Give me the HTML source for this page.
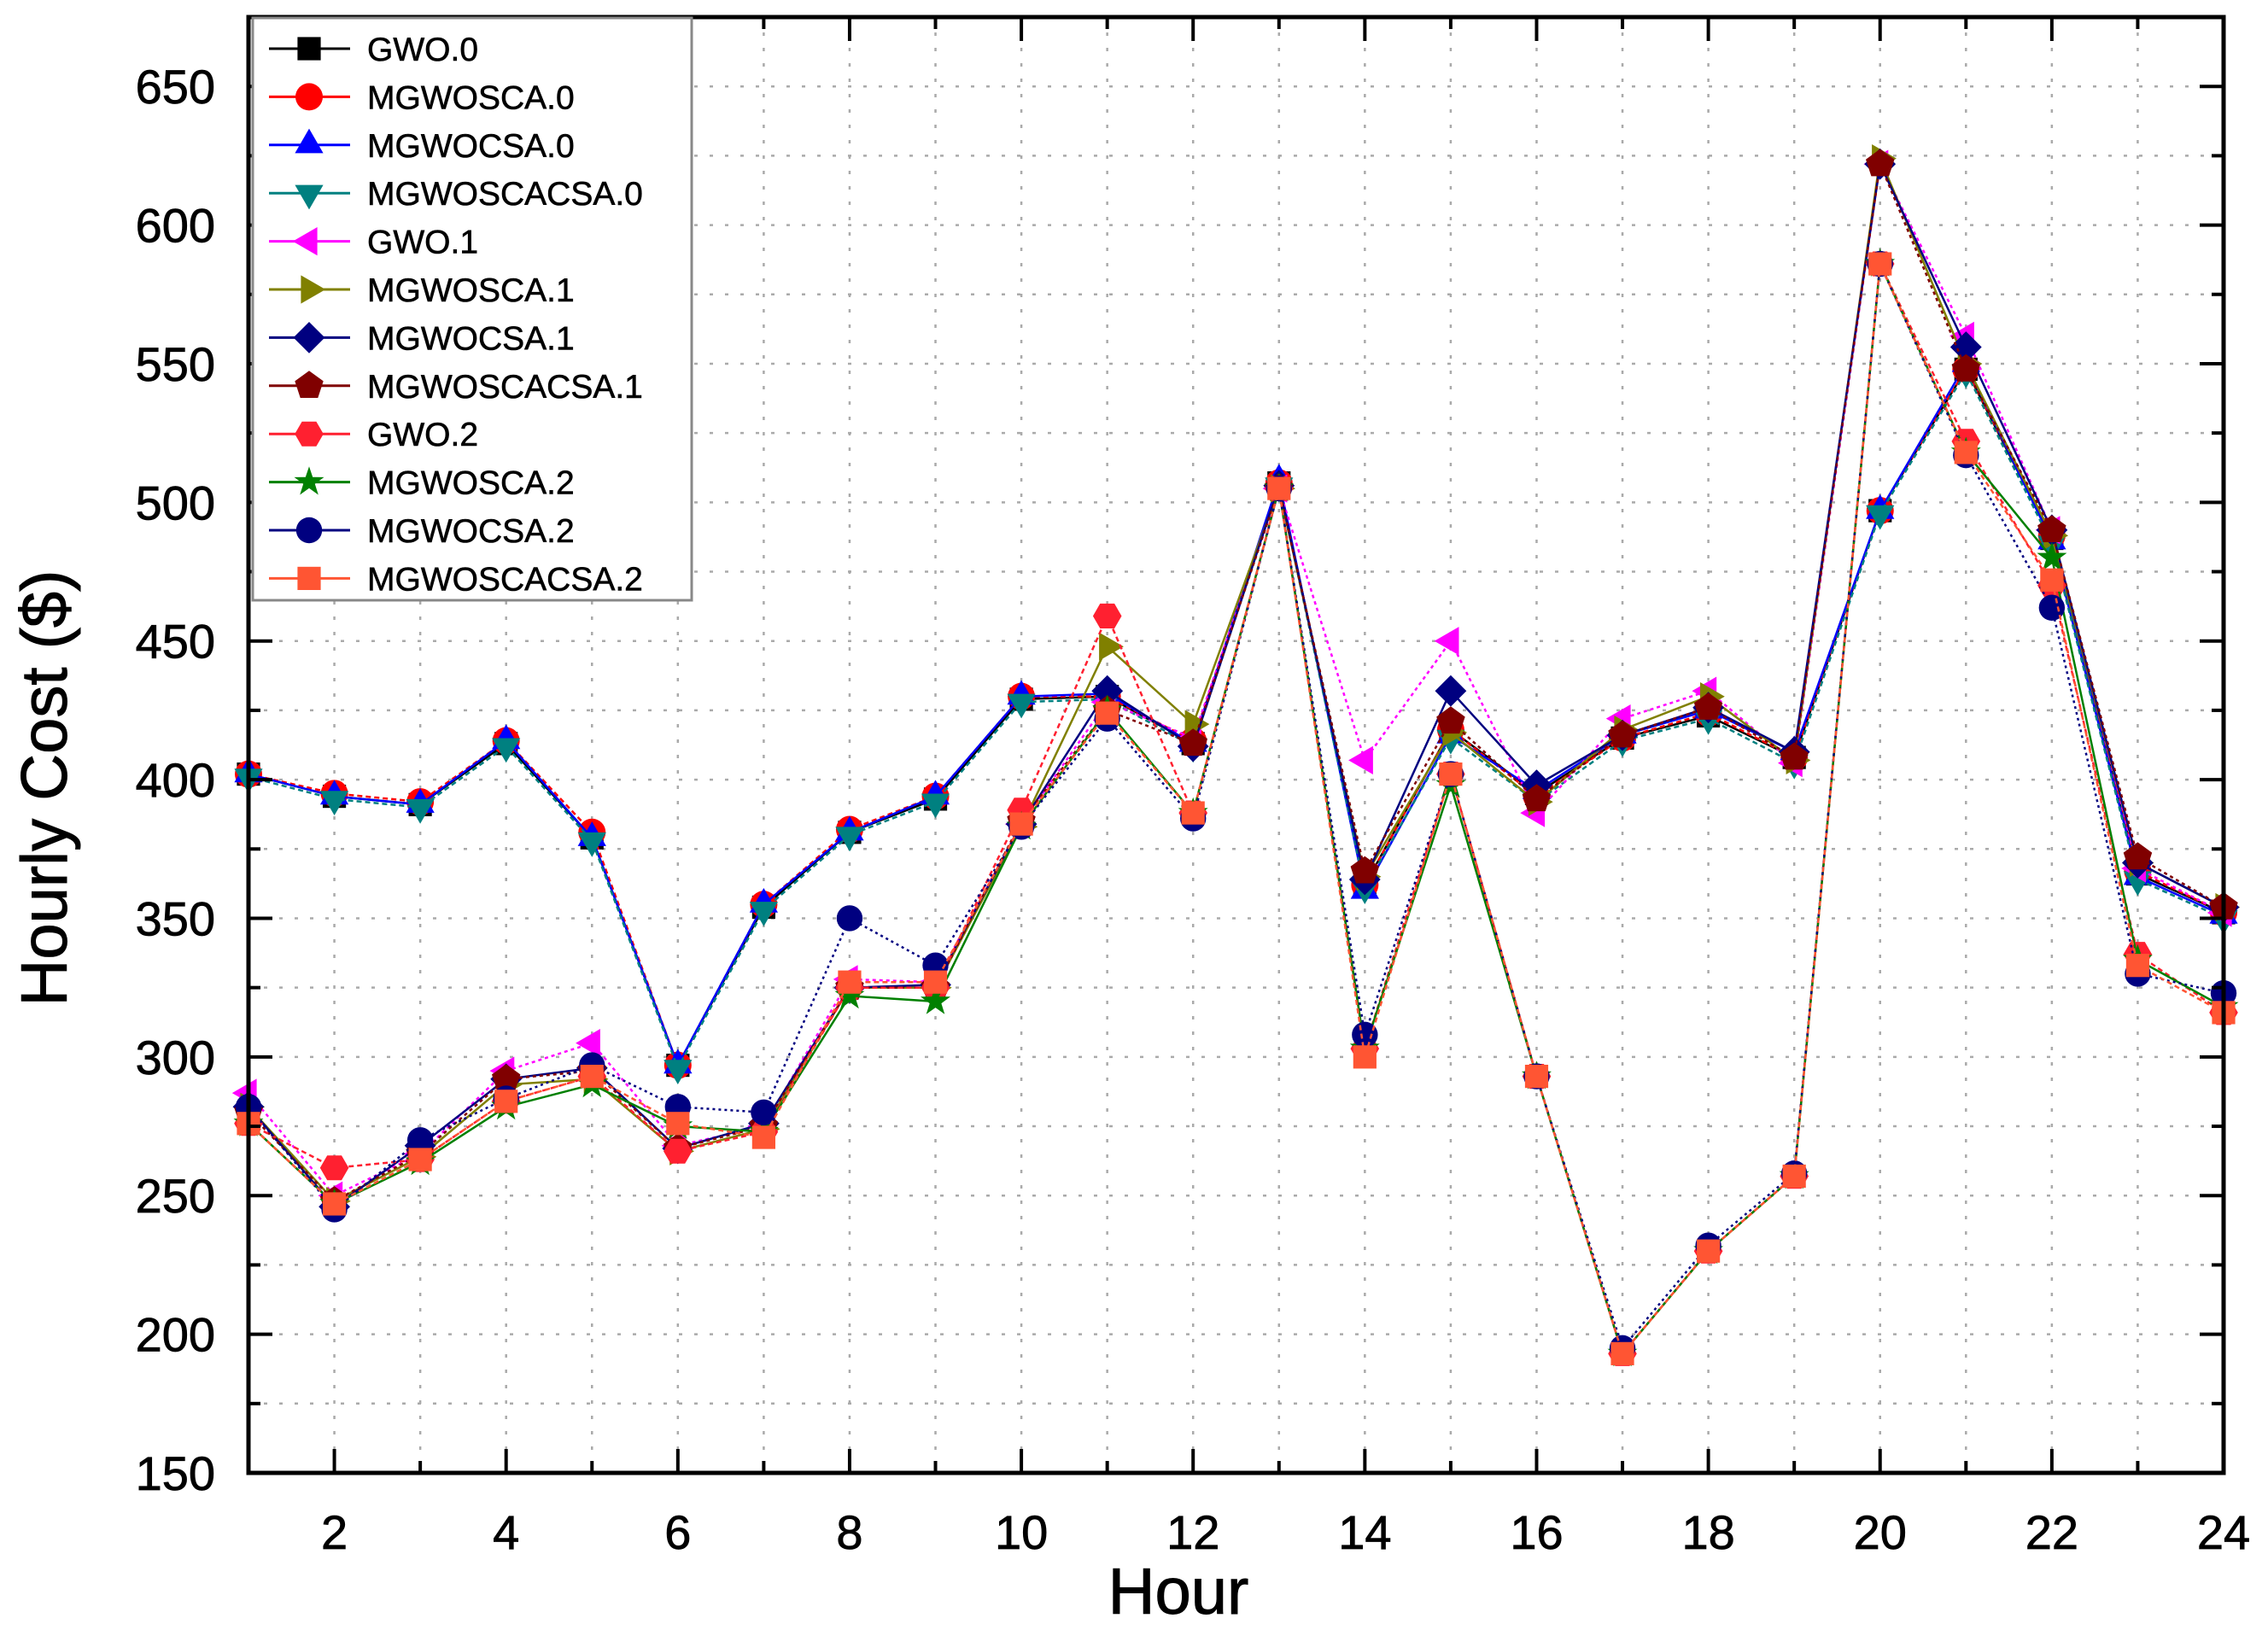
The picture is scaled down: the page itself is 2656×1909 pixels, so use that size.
<!DOCTYPE html>
<html><head><meta charset="utf-8"><style>
html,body{margin:0;padding:0;background:#fff;}
svg{display:block;font-family:"Liberation Sans",Arial,sans-serif;}
</style></head><body>
<svg id="chart" width="2656" height="1909" viewBox="0 0 2656 1909" xmlns="http://www.w3.org/2000/svg">
<rect x="0" y="0" width="2656" height="1909" fill="#fff"/>
<g id="grid"></g>
<g id="series"></g>
<g id="axes"></g>
<g id="legend"></g>
<text x="0" y="0" transform="translate(78,923) rotate(-90)" text-anchor="middle" font-size="76" stroke="#000" stroke-width="1">Hourly Cost ($)</text>
<text x="1380" y="1890" text-anchor="middle" font-size="76" stroke="#000" stroke-width="1">Hour</text>
</svg>
<script>
const hours = [1,2,3,4,5,6,7,8,9,10,11,12,13,14,15,16,17,18,19,20,21,22,23,24];
const yTicks = [150,200,250,300,350,400,450,500,550,600,650];
const xTicks = [2,4,6,8,10,12,14,16,18,20,22,24];
const seriesNames = ["GWO.0","MGWOSCA.0","MGWOCSA.0","MGWOSCACSA.0","GWO.1","MGWOSCA.1","MGWOCSA.1","MGWOSCACSA.1","GWO.2","MGWOSCA.2","MGWOCSA.2","MGWOSCACSA.2"];
const gwo0 =        [402,394,391,413,379,297,354,381,393,429,430,413,507,362,418,395,415,423,408,497,548,487,366,352];
const mgwosca0 =    [402,395,392,414,381,297,355,382,394,430,430,414,507,362,418,394,415,424,408,497,548,488,367,352];
const mgwocsa0 =    [402,394,391,414,379,297,355,381,394,430,431,413,508,360,416,396,416,425,410,497,550,486,365,351];
const mgwoscacsa0 = [401,393,390,412,378,296,353,380,392,428,429,412,506,361,415,392,414,422,406,496,547,485,364,350];
const gwo1 =        [287,250,265,295,305,268,275,328,327,384,428,415,505,407,450,388,422,432,406,622,560,490,368,352];
const mgwosca1 =    [282,248,264,290,292,266,274,325,325,383,448,420,505,365,417,392,418,430,407,624,550,488,370,354];
const mgwocsa1 =    [282,246,268,292,296,267,276,325,326,384,432,412,506,364,432,398,416,426,410,622,556,490,370,354];
const mgwoscacsa1 = [280,248,265,292,295,267,275,325,325,385,425,413,505,367,421,393,416,426,408,622,548,490,372,354];
const gwo2 =        [276,260,263,284,293,266,273,325,325,389,459,388,505,303,402,293,193,230,257,586,522,470,337,316];
const mgwosca2 =    [276,247,262,282,290,275,273,322,320,383,425,388,505,303,398,293,193,230,257,586,518,480,335,318];
const mgwocsa2 =    [282,245,270,285,297,282,280,350,333,383,422,386,505,308,402,293,195,232,258,586,517,462,330,323];
const mgwoscacsa2 = [276,247,263,284,293,276,271,327,327,384,424,388,505,300,402,293,193,230,257,586,518,472,333,316];
const seriesData = [gwo0,mgwosca0,mgwocsa0,mgwoscacsa0,gwo1,mgwosca1,mgwocsa1,mgwoscacsa1,gwo2,mgwosca2,mgwocsa2,mgwoscacsa2];

const colors = ["#000000","#ff0000","#0000ff","#008080","#ff00ff","#808000","#000080","#800000","#ff2030","#008000","#000080","#ff5533"];
const markers = ["square","circle","up","down","left","right","diamond","pentagon","hexagon","star","ball","square"];
const dashes = ["", "6,4", "", "6,4", "4,4", "", "", "4,4", "6,4", "", "3,4", "6,4"];

const L=291,R=2604,T=20,B=1725, X0=1,X1=24, Y0=150,Y1=675;
const sx=v=>L+(v-X0)/(X1-X0)*(R-L);
const sy=v=>B-(v-Y0)/(Y1-Y0)*(B-T);
const NS="http://www.w3.org/2000/svg";
function mk(tag,attrs,parent){const e=document.createElementNS(NS,tag);for(const k in attrs)e.setAttribute(k,attrs[k]);parent.appendChild(e);return e;}

const grid=document.getElementById('grid');
for(let h=2;h<24;h++){
  const g=mk('line',{x1:sx(h),x2:sx(h),y1:T,y2:B,stroke:'#aaa','stroke-width':2.5,'stroke-dasharray':'4,14'},grid);
  
  
}
for(let v=175;v<675;v+=25){
  const g=mk('line',{x1:L,x2:R,y1:sy(v),y2:sy(v),stroke:'#aaa','stroke-width':2.5,'stroke-dasharray':'4,14'},grid);
  
  
}

function marker(type,x,y,s,color,parent){
  let e;
  const pts=(arr)=>arr.map(p=>p[0].toFixed(1)+','+p[1].toFixed(1)).join(' ');
  const poly=(n,rot,r)=>{const a=[];for(let i=0;i<n;i++){const t=rot+i*2*Math.PI/n;a.push([x+r*Math.cos(t),y+r*Math.sin(t)]);}return a;};
  switch(type){
    case 'square': e=mk('rect',{x:x-s*0.85,y:y-s*0.85,width:s*1.7,height:s*1.7,fill:color},parent);break;
    case 'circle': e=mk('circle',{cx:x,cy:y,r:s,fill:color},parent);break;
    case 'ball': e=mk('circle',{cx:x,cy:y,r:s*0.95,fill:color},parent);break;
    case 'up': e=mk('polygon',{points:pts(poly(3,-Math.PI/2,s*1.2)),fill:color},parent);break;
    case 'down': e=mk('polygon',{points:pts(poly(3,Math.PI/2,s*1.2)),fill:color},parent);break;
    case 'left': e=mk('polygon',{points:pts(poly(3,Math.PI,s*1.2)),fill:color},parent);break;
    case 'right': e=mk('polygon',{points:pts(poly(3,0,s*1.2)),fill:color},parent);break;
    case 'diamond': e=mk('polygon',{points:pts(poly(4,0,s*1.15)),fill:color},parent);break;
    case 'pentagon': e=mk('polygon',{points:pts(poly(5,-Math.PI/2,s*1.1)),fill:color},parent);break;
    case 'hexagon': e=mk('polygon',{points:pts(poly(6,0,s*1.05)),fill:color},parent);break;
    case 'star': {const a=[];for(let i=0;i<10;i++){const r=i%2?s*0.45:s*1.15;const t=-Math.PI/2+i*Math.PI/5;a.push([x+r*Math.cos(t),y+r*Math.sin(t)]);}e=mk('polygon',{points:pts(a),fill:color},parent);break;}
  }
  return e;
}

const sg=document.getElementById('series');
seriesData.forEach((vals,i)=>{
  const g=mk('g',{},sg);
  
  
  const d=vals.map((v,j)=>(j?'L':'M')+sx(hours[j]).toFixed(1)+' '+sy(v).toFixed(1)).join(' ');
  const p=mk('path',{d:d,fill:'none',stroke:colors[i],'stroke-width':2.5,'stroke-dasharray':dashes[i]},g);
  
  
  vals.forEach((v,j)=>{
    const m=marker(markers[i],sx(hours[j]),sy(v),16,colors[i],g);
    
    
  });
});

const ax=document.getElementById('axes');
const frame=mk('rect',{x:L,y:T,width:R-L,height:B-T,fill:'none',stroke:'#000','stroke-width':5},ax);


for(let h=1;h<=24;h++){
  const len=h%2===0?28:14;
  mk('line',{x1:sx(h),x2:sx(h),y1:B,y2:B-len,stroke:'#000','stroke-width':4},ax);
  mk('line',{x1:sx(h),x2:sx(h),y1:T,y2:T+len,stroke:'#000','stroke-width':4},ax);
}
for(let v=150;v<=675;v+=25){
  const len=v%50===0?28:14;
  mk('line',{x1:L,x2:L+len,y1:sy(v),y2:sy(v),stroke:'#000','stroke-width':4},ax);
  mk('line',{x1:R,x2:R-len,y1:sy(v),y2:sy(v),stroke:'#000','stroke-width':4},ax);
}
xTicks.forEach(h=>{
  const t=mk('text',{x:sx(h),y:1814,'text-anchor':'middle','font-size':56,stroke:'#000','stroke-width':0.8},ax);
  t.textContent=h;
  
  
});
yTicks.forEach(v=>{
  const t=mk('text',{x:252,y:sy(v)+20,'text-anchor':'end','font-size':56,stroke:'#000','stroke-width':0.8},ax);
  t.textContent=v;
  
  
});

const lg=document.getElementById('legend');
const box=mk('rect',{x:296,y:21,width:514,height:682,fill:'#fff',stroke:'#888','stroke-width':3},lg);


seriesNames.forEach((n,i)=>{
  const y=57+i*56.4;
  const g=mk('g',{},lg);
  
  
  mk('line',{x1:315,x2:410,y1:y,y2:y,stroke:colors[i],'stroke-width':3},g);
  marker(markers[i],362,y,16,colors[i],g);
  const t=mk('text',{x:430,y:y+14,'font-size':39,stroke:'#000','stroke-width':0.6},g);
  t.textContent=n;
});
</script>
</body></html>
